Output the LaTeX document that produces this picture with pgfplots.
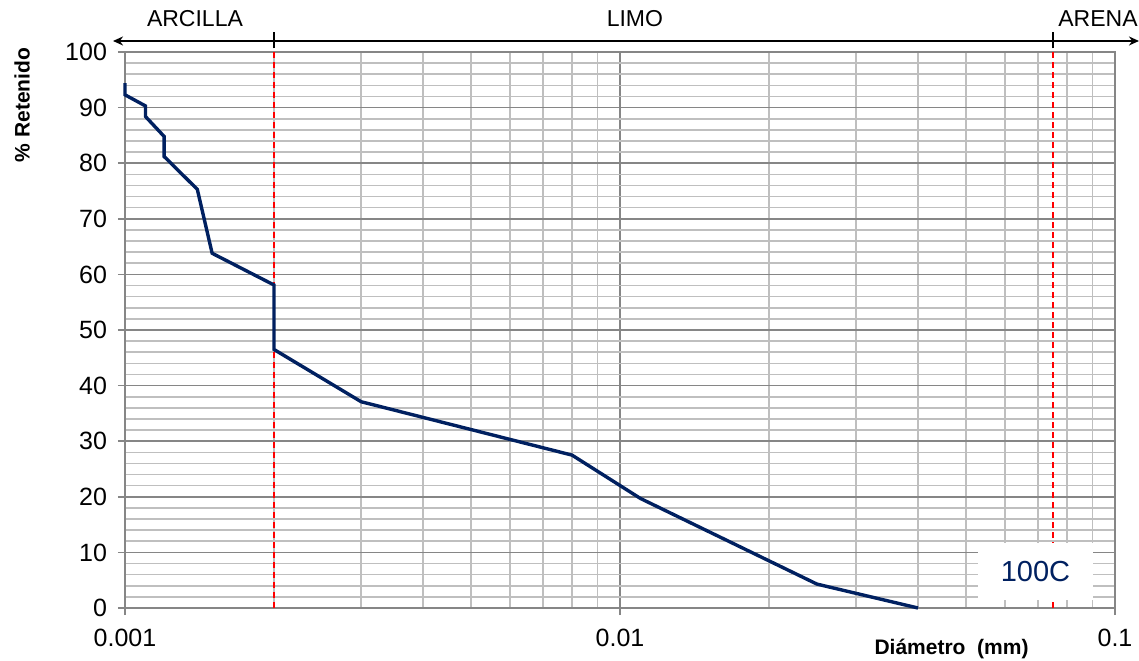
\documentclass[border=0pt]{standalone}
\usepackage{fontspec}
\setmainfont{Liberation Sans}
\usepackage{pgfplots}
\pgfplotsset{compat=1.18}
\usetikzlibrary{arrows.meta}
\definecolor{navy}{HTML}{002060}
\definecolor{gridminor}{HTML}{BFBFBF}
\definecolor{gridmajor}{HTML}{868686}
\begin{document}
\begin{tikzpicture}
\path[use as bounding box] (-62.5pt,-26pt) rectangle (507pt,304pt);
\begin{axis}[
  at={(0,0)}, anchor=south west,
  scale only axis, width=495pt, height=278pt,
  xmode=log, xmin=0.001, xmax=0.1, ymin=0, ymax=100,
  xtick={0.001,0.01,0.1}, xticklabels={0.001,0.01,0.1},
  minor xtick={0.002,0.003,0.004,0.005,0.006,0.007,0.008,0.009,0.02,0.03,0.04,0.05,0.06,0.07,0.08,0.09},
  ytick={0,10,...,100},
  minor ytick={2,4,6,8,12,14,16,18,22,24,26,28,32,34,36,38,42,44,46,48,52,54,56,58,62,64,66,68,72,74,76,78,82,84,86,88,92,94,96,98},
  grid=both,
  minor grid style={gridminor, line width=0.8pt},
  major grid style={gridmajor, line width=0.8pt},
  axis line style={gridmajor, line width=0.8pt},
  tick style={gridmajor, line width=0.8pt},
  tick align=outside, tick pos=left,
  major tick length=3.5pt, minor tick length=0pt,
  ticklabel style={font=\fontsize{12.5}{14}\selectfont, text=black},
  xticklabel style={yshift=-3.5pt},
  yticklabel style={xshift=-2pt},
  /pgf/number format/assume math mode=true,
  clip=false,
]
\addplot[red, line width=0.9pt, dash pattern=on 3pt off 2pt] coordinates {(0.002,0) (0.002,100)};
\addplot[red, line width=0.9pt, dash pattern=on 3pt off 2pt] coordinates {(0.075,0) (0.075,100)};
\addplot[navy, line width=1.7pt] coordinates {
  (0.001,94.4) (0.001,92.3) (0.0011,90.3) (0.0011,88.4) (0.0012,84.8) (0.0012,81.2)
  (0.0014,75.3) (0.0015,63.8) (0.002,58.1) (0.002,46.5) (0.003,37.1) (0.008,27.5)
  (0.011,19.7) (0.025,4.3) (0.04,0)};
\node[fill=white, minimum width=57.5pt, minimum height=28.5pt, inner sep=0pt, text=navy,
  font=\fontsize{14.5}{16}\selectfont] at (axis cs:0.0691,6.56) {100C};
\draw[black, line width=1pt, {Stealth[length=5pt,width=4.5pt]}-{Stealth[length=5pt,width=4.5pt]}]
  (axis cs:0.000946,101.98) -- (axis cs:0.1118,101.98);
\draw[black, line width=1pt] (axis cs:0.002,100.66) -- (axis cs:0.002,103.65);
\draw[black, line width=1pt] (axis cs:0.075,100.66) -- (axis cs:0.075,103.65);
\node[anchor=base, font=\fontsize{11.5}{13}\selectfont] at (axis cs:0.001385,104.5) {ARCILLA};
\node[anchor=base, font=\fontsize{11.5}{13}\selectfont] at (axis cs:0.01072,104.5) {LIMO};
\end{axis}
\node[anchor=base east, inner xsep=0.5pt, font=\fontsize{11.5}{13}\selectfont] at (507pt,290.5pt) {ARENA};
\node[rotate=90, font=\bfseries\fontsize{10.5}{12}\selectfont] at (-51.5pt,251.5pt) {\% Retenido};
\node[anchor=base, font=\bfseries\fontsize{10.5}{12}\selectfont] at (413.25pt,-23pt) {Diámetro\ \ (mm)};
\end{tikzpicture}
\end{document}
